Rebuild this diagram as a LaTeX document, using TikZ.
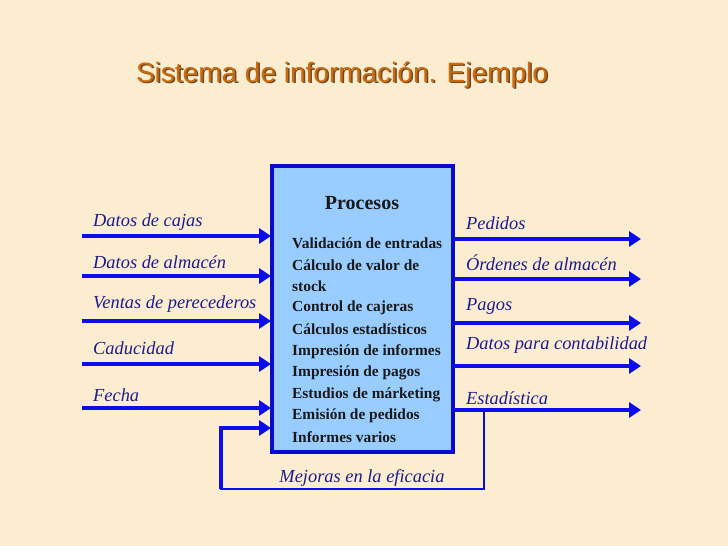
\documentclass[tikz,border=0pt]{standalone}
\usepackage{fontspec}
\setmainfont{Liberation Serif}
\newfontfamily\titlefont{Liberation Sans}
\usetikzlibrary{arrows.meta}
\definecolor{bgc}{HTML}{FCEDD0}
\definecolor{boxfill}{HTML}{99CCFF}
\definecolor{boxline}{HTML}{0A0ACC}
\definecolor{arrblue}{HTML}{0C0CEE}
\definecolor{labblue}{HTML}{1C1C8E}
\definecolor{titleor}{HTML}{CC6A10}
\definecolor{titlesh}{HTML}{6B4A2A}
\tikzset{
  flow/.style={draw=arrblue, line width=3.8pt, -{Triangle[length=12pt,width=15pt]}},
  fb/.style={draw=arrblue, line width=2.8pt},
  lab/.style={font=\itshape\fontsize{18.4}{18.4}\selectfont, text=labblue, anchor=west, inner sep=0pt},
  item/.style={font=\bfseries\fontsize{15.4}{15.4}\selectfont, text=black!90, anchor=west, inner sep=0pt},
}
\begin{document}
\begin{tikzpicture}[x=1pt,y=-1pt]
\useasboundingbox[fill=bgc] (0,0) rectangle (728,546);
% title
\node[font=\titlefont\fontsize{28}{28}\selectfont, text=titlesh, inner sep=0pt] (tsh) at (343.5,76.5) {Sistema de información. Ejemplo};
\node[font=\titlefont\fontsize{28}{28}\selectfont, text=titleor, inner sep=0pt] (title) at (342,75) {Sistema de información. Ejemplo};
% box
\node[draw=boxline, fill=boxfill, line width=4.5pt, minimum width=181pt, minimum height=286pt, inner sep=0pt] (box) at (362.5,309) {};
\node[font=\bfseries\fontsize{20}{20}\selectfont, text=black!90, inner sep=0pt] (proc) at (362,203) {Procesos};
\foreach \t [count=\i from 0] in {Validación de entradas,Cálculo de valor de,stock,Control de cajeras,Cálculos estadísticos,Impresión de informes,Impresión de pagos,Estudios de márketing,Emisión de pedidos,Informes varios}{
  \node[item] (it\i) at (292,{243.5+21.55*\i}) {\t};
}
% left inputs
\foreach \t/\ya/\yl [count=\i] in {Datos de cajas/236/222, Datos de almacén/276/262, Ventas de perecederos/321/304, Caducidad/364/348, Fecha/408/395}{
  \node[lab] (in\i) at (93,\yl) {\t};
  \coordinate (ins\i) at (82,\ya);
  \coordinate (ine\i) at (271,\ya);
  \draw[flow] (ins\i) -- (ine\i);
}
% right outputs
\foreach \t/\ya/\yl [count=\i] in {Pedidos/239/223, Órdenes de almacén/279/263, Pagos/323/306, Datos para contabilidad/366/345, Estadística/410/398}{
  \node[lab] (out\i) at (466,\yl) {\t};
  \coordinate (outs\i) at (453,\ya);
  \coordinate (oute\i) at (641,\ya);
  \draw[flow] (outs\i) -- (oute\i);
}
% feedback loop
\coordinate (f1) at (484,410);
\coordinate (f2) at (484,489);
\coordinate (f3) at (221,489);
\coordinate (f4) at (221,428);
\coordinate (f5) at (271,428);
\draw[fb, line join=miter] (f1) -- (f2) -- (f3) -- (f4);
\draw[draw=arrblue, line width=3.4pt] (f3) -- (f4);
\draw[flow] ([xshift=-1.7pt]f4) -- (f5);
\node[lab, anchor=center] (mej) at (362,478) {Mejoras en la eficacia};
\end{tikzpicture}
\end{document}
